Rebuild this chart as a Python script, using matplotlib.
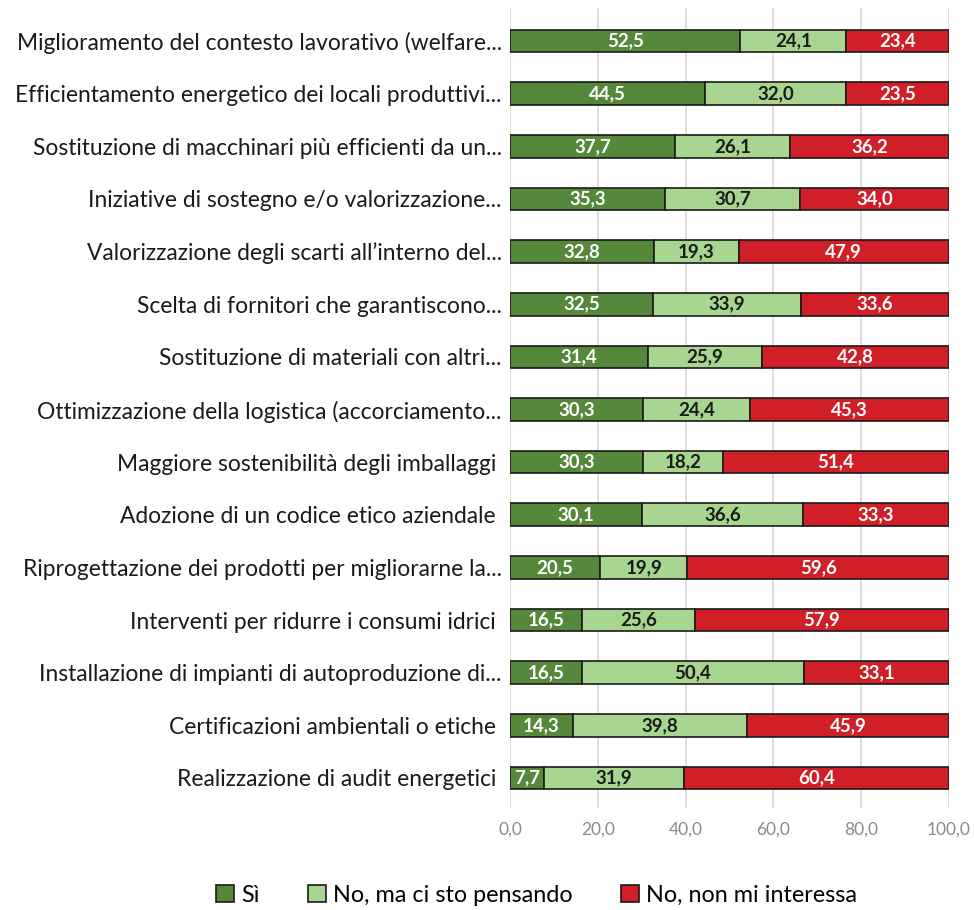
import numpy as np
import matplotlib.pyplot as plt

# Dati: percentuali per iniziativa
labels = [
    "Miglioramento del contesto lavorativo (welfare...",
    "Efficientamento energetico dei locali produttivi...",
    "Sostituzione di macchinari più efficienti da un...",
    "Iniziative di sostegno e/o valorizzazione...",
    "Valorizzazione degli scarti all’interno del...",
    "Scelta di fornitori che garantiscono...",
    "Sostituzione di materiali con altri...",
    "Ottimizzazione della logistica (accorciamento...",
    "Maggiore sostenibilità degli imballaggi ",
    "Adozione di un codice etico aziendale ",
    "Riprogettazione dei prodotti per migliorarne la...",
    "Interventi per ridurre i consumi idrici ",
    "Installazione di impianti di autoproduzione di...",
    "Certificazioni ambientali o etiche ",
    "Realizzazione di audit energetici ",
]
si = [52.5, 44.5, 37.7, 35.3, 32.8, 32.5, 31.4, 30.3, 30.3, 30.1, 20.5, 16.5, 16.5, 14.3, 7.7]
pensando = [24.1, 32.0, 26.1, 30.7, 19.3, 33.9, 25.9, 24.4, 18.2, 36.6, 19.9, 25.6, 50.4, 39.8, 31.9]
no = [23.4, 23.5, 36.2, 34.0, 47.9, 33.6, 42.8, 45.3, 51.4, 33.3, 59.6, 57.9, 33.1, 45.9, 60.4]

series = ["Sì", "No, ma ci sto pensando", "No, non mi interessa"]
colori = ["#55883b", "#a8d590", "#d01f26"]
col_testo = ["white", "#1a1a1a", "white"]

plt.rcParams['font.family'] = ['Lato', 'DejaVu Sans']

fig = plt.figure(figsize=(9.74, 9.10), dpi=100)
ax = fig.add_axes([0.5236, 1 - 808 / 910, 0.4507, 800 / 910])

y = np.arange(len(labels))
left = np.zeros(len(labels))
for vals, nome, c, tc in zip([si, pensando, no], series, colori, col_testo):
    vals = np.array(vals)
    bars = ax.barh(y, vals, left=left, height=0.43, color=c, edgecolor="#1a1a1a",
                   linewidth=1.2, label=nome, zorder=3)
    for b, v in zip(bars, vals):
        ax.text(b.get_x() + b.get_width() / 2, b.get_y() + b.get_height() / 2,
                f"{v:.1f}".replace(".", ","), ha="center", va="center",
                color=tc, fontsize=13.5, fontweight="bold", zorder=4)
    left += vals

ax.set_xlim(0, 100)
ax.set_ylim(14.57, -0.627)
ax.set_yticks(y)
ax.set_yticklabels(labels, fontsize=16.4, color="#1a1a1a")
ax.set_xticks(np.arange(0, 101, 20))
ax.set_xticklabels([f"{t:.1f}".replace(".", ",") for t in np.arange(0, 101, 20)],
                   fontsize=12.5, color="#8a8a8a")
ax.tick_params(axis="y", length=0, pad=6)
ax.tick_params(axis="x", length=0, pad=10)
ax.grid(axis="x", color="#d9d9d9", linewidth=1.2, zorder=0)
for s in ax.spines.values():
    s.set_visible(False)

ax.legend(loc="center", bbox_to_anchor=(0.551, 1 - 895 / 910), bbox_transform=fig.transFigure,
          ncol=3, frameon=False, fontsize=16.8, handlelength=0.75, handleheight=0.75,
          handletextpad=0.3, columnspacing=2.1)

fig.savefig("out.png", dpi=100)
